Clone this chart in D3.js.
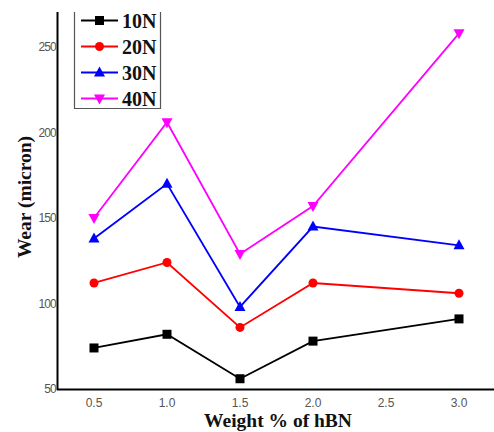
<!DOCTYPE html>
<html><head><meta charset="utf-8">
<script src="https://cdn.jsdelivr.net/npm/d3@7/dist/d3.min.js"></script>
<style>body{margin:0;background:#fff}svg{display:block}</style>
</head><body>
<svg id="c" width="494" height="432"></svg>
<script>
const xVals = [0.5, 1.0, 1.5, 2.0, 3.0];
const s10N = [74, 82, 56, 78, 91];
const s20N = [112, 124, 86, 112, 106];
const s30N = [138, 170, 98, 145, 134];
const s40N = [150, 206, 129, 157, 258];
const seriesNames = ["10N", "20N", "30N", "40N"];
const seriesColors = ["#000000", "#ff0000", "#0000ff", "#ff00ff"];
const seriesSymbols = ["square", "circle", "triangle", "triangleDown"];
const xTicks = [0.5, 1.0, 1.5, 2.0, 2.5, 3.0];
const yTicks = [50, 100, 150, 200, 250];

const svg = d3.select("#c");
const x = d3.scaleLinear().domain([0.5, 3.0]).range([94, 459]);
const y = d3.scaleLinear().domain([50, 250]).range([389, 47]);
const seriesData = [s10N, s20N, s30N, s40N];

// axes lines
svg.append("line").attr("x1", 57.5).attr("x2", 57.5).attr("y1", 12).attr("y2", 390)
  .attr("stroke", "#000").attr("stroke-width", 2);
svg.append("line").attr("x1", 57).attr("x2", 494).attr("y1", 389.5).attr("y2", 389.5)
  .attr("stroke", "#000").attr("stroke-width", 2);

// tick labels
svg.selectAll(".yt").data(yTicks).enter().append("text")
  .attr("x", 56).attr("y", d => y(d) + 4).attr("text-anchor", "end")
  .attr("font-family", "Liberation Sans, Arial, sans-serif").attr("font-size", 12)
  .attr("fill", "#555").attr("letter-spacing", -0.8).text(d => d);
svg.selectAll(".xt").data(xTicks).enter().append("text")
  .attr("x", d => x(d)).attr("y", 407).attr("text-anchor", "middle")
  .attr("font-family", "Liberation Sans, Arial, sans-serif").attr("font-size", 12)
  .attr("fill", "#555").text(d => d3.format(".1f")(d));

// titles
svg.append("text").attr("x", 278).attr("y", 427).attr("text-anchor", "middle")
  .attr("font-family", "Liberation Serif, Times New Roman, serif").attr("font-weight", "bold")
  .attr("font-size", 19.5).attr("fill", "#111").text("Weight % of hBN");
svg.append("text").attr("transform", "translate(31,197) rotate(-90)").attr("text-anchor", "middle")
  .attr("font-family", "Liberation Serif, Times New Roman, serif").attr("font-weight", "bold")
  .attr("font-size", 19.5).attr("fill", "#111").text("Wear (micron)");

function sym(g, type, color, cx, cy) {
  if (type === "square") {
    g.append("rect").attr("x", cx - 4.5).attr("y", cy - 4.5).attr("width", 9).attr("height", 9).attr("fill", color);
  } else if (type === "circle") {
    g.append("circle").attr("cx", cx).attr("cy", cy).attr("r", 4.5).attr("fill", color);
  } else if (type === "triangle") {
    g.append("path").attr("d", `M${cx},${cy-6}L${cx+5.5},${cy+4}L${cx-5.5},${cy+4}Z`).attr("fill", color);
  } else {
    g.append("path").attr("d", `M${cx},${cy+6}L${cx+5.5},${cy-4}L${cx-5.5},${cy-4}Z`).attr("fill", color);
  }
}

const line = d3.line().x((d, i) => x(xVals[i])).y(d => y(d));
seriesData.forEach((vals, k) => {
  const g = svg.append("g");
  g.append("path").attr("d", line(vals)).attr("fill", "none")
    .attr("stroke", seriesColors[k]).attr("stroke-width", 1.8);
  vals.forEach((v, i) => sym(g, seriesSymbols[k], seriesColors[k], x(xVals[i]), y(v)));
});

// legend
const lg = svg.append("g");
lg.append("rect").attr("x", 74.5).attr("y", 12.5).attr("width", 86).attr("height", 95)
  .attr("fill", "#fff").attr("stroke", "none");
lg.append("path").attr("d", "M74.5,12V108.5H160.5V12").attr("fill", "none").attr("stroke", "#555").attr("stroke-width", 1.2);
seriesNames.forEach((n, k) => {
  const cy = 20.5 + k * 26;
  lg.append("line").attr("x1", 81).attr("x2", 118).attr("y1", cy).attr("y2", cy)
    .attr("stroke", seriesColors[k]).attr("stroke-width", 1.8);
  sym(lg, seriesSymbols[k], seriesColors[k], 99.5, cy);
  lg.append("text").attr("x", 122).attr("y", cy + 7).attr("font-family", "Liberation Serif, Times New Roman, serif")
    .attr("font-weight", "bold").attr("font-size", 20).attr("fill", "#111").text(n);
});
</script>
</body></html>
